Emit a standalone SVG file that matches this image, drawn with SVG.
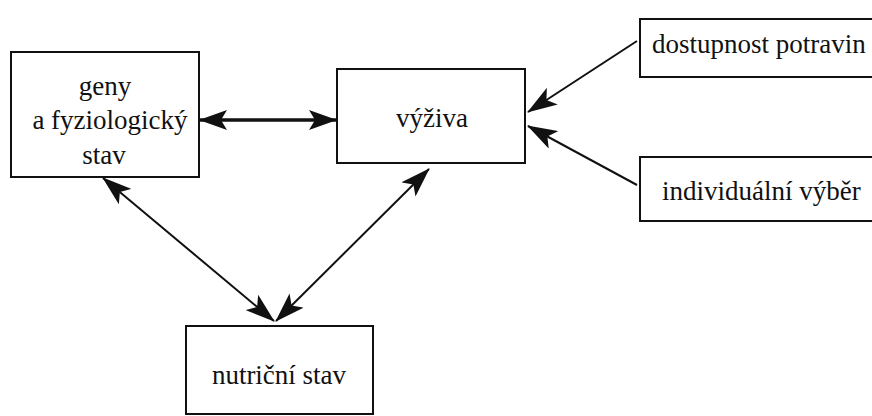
<svg xmlns="http://www.w3.org/2000/svg" width="872" height="416" viewBox="0 0 872 416">
  <style>
    .box { fill: #fff; stroke: #111; stroke-width: 2; }
    text { font-family: 'Liberation Serif', 'Times New Roman', 'DejaVu Serif', serif; font-size: 27px; fill: #111; }
    .c { text-anchor: middle; }
    .con { fill: none; stroke: #111; stroke-width: 2; }
    .con-thick { fill: none; stroke: #111; stroke-width: 3.5; }
  </style>
  <defs>
    <marker id="ah" viewBox="0 0 30 20" refX="29" refY="10" markerWidth="30" markerHeight="20" markerUnits="userSpaceOnUse" orient="auto-start-reverse">
      <path d="M0,0 L30,10 L0,20 L7,10 z" fill="#111"/>
    </marker>
    <marker id="ahT" viewBox="0 0 28 20" refX="27" refY="10" markerWidth="28" markerHeight="20" markerUnits="userSpaceOnUse" orient="auto-start-reverse">
      <path d="M0,0 L28,10 L0,20 L6,10 z" fill="#111"/>
    </marker>
  </defs>
  <rect width="872" height="416" fill="#fff"/>

  <g id="geny" font-family="Liberation Serif, serif" font-size="27">
    <rect class="box" x="11" y="52" width="188" height="125"/>
    <text class="c" x="105" y="95">geny</text>
    <text class="c" x="110" y="129">a fyziologický</text>
    <text class="c" x="104" y="164">stav</text>
  </g>

  <g id="vyziva" font-family="Liberation Serif, serif" font-size="27">
    <rect class="box" x="337" y="69" width="188" height="94"/>
    <text class="c" x="432" y="127">výživa</text>
  </g>

  <g id="dostupnost" font-family="Liberation Serif, serif" font-size="27">
    <rect class="box" x="640" y="19" width="240" height="58"/>
    <text x="652" y="53">dostupnost potravin</text>
  </g>

  <g id="individualni" font-family="Liberation Serif, serif" font-size="27">
    <rect class="box" x="640" y="157" width="240" height="64"/>
    <text x="662" y="200">individuální výběr</text>
  </g>

  <g id="nutricni" font-family="Liberation Serif, serif" font-size="27">
    <rect class="box" x="186" y="326" width="187" height="88"/>
    <text class="c" x="279" y="384">nutriční stav</text>
  </g>

  <g id="connectors">
    <line class="con-thick" x1="200" y1="120" x2="336" y2="120" marker-start="url(#ahT)" marker-end="url(#ahT)"/>
    <line class="con" x1="637" y1="41" x2="528" y2="112" marker-end="url(#ah)"/>
    <line class="con" x1="637" y1="185" x2="528" y2="126" marker-end="url(#ah)"/>
    <line class="con" x1="103" y1="178" x2="274" y2="321" marker-start="url(#ah)" marker-end="url(#ah)"/>
    <line class="con" x1="429" y1="169" x2="276" y2="321" marker-start="url(#ah)" marker-end="url(#ah)"/>
  </g>
</svg>
